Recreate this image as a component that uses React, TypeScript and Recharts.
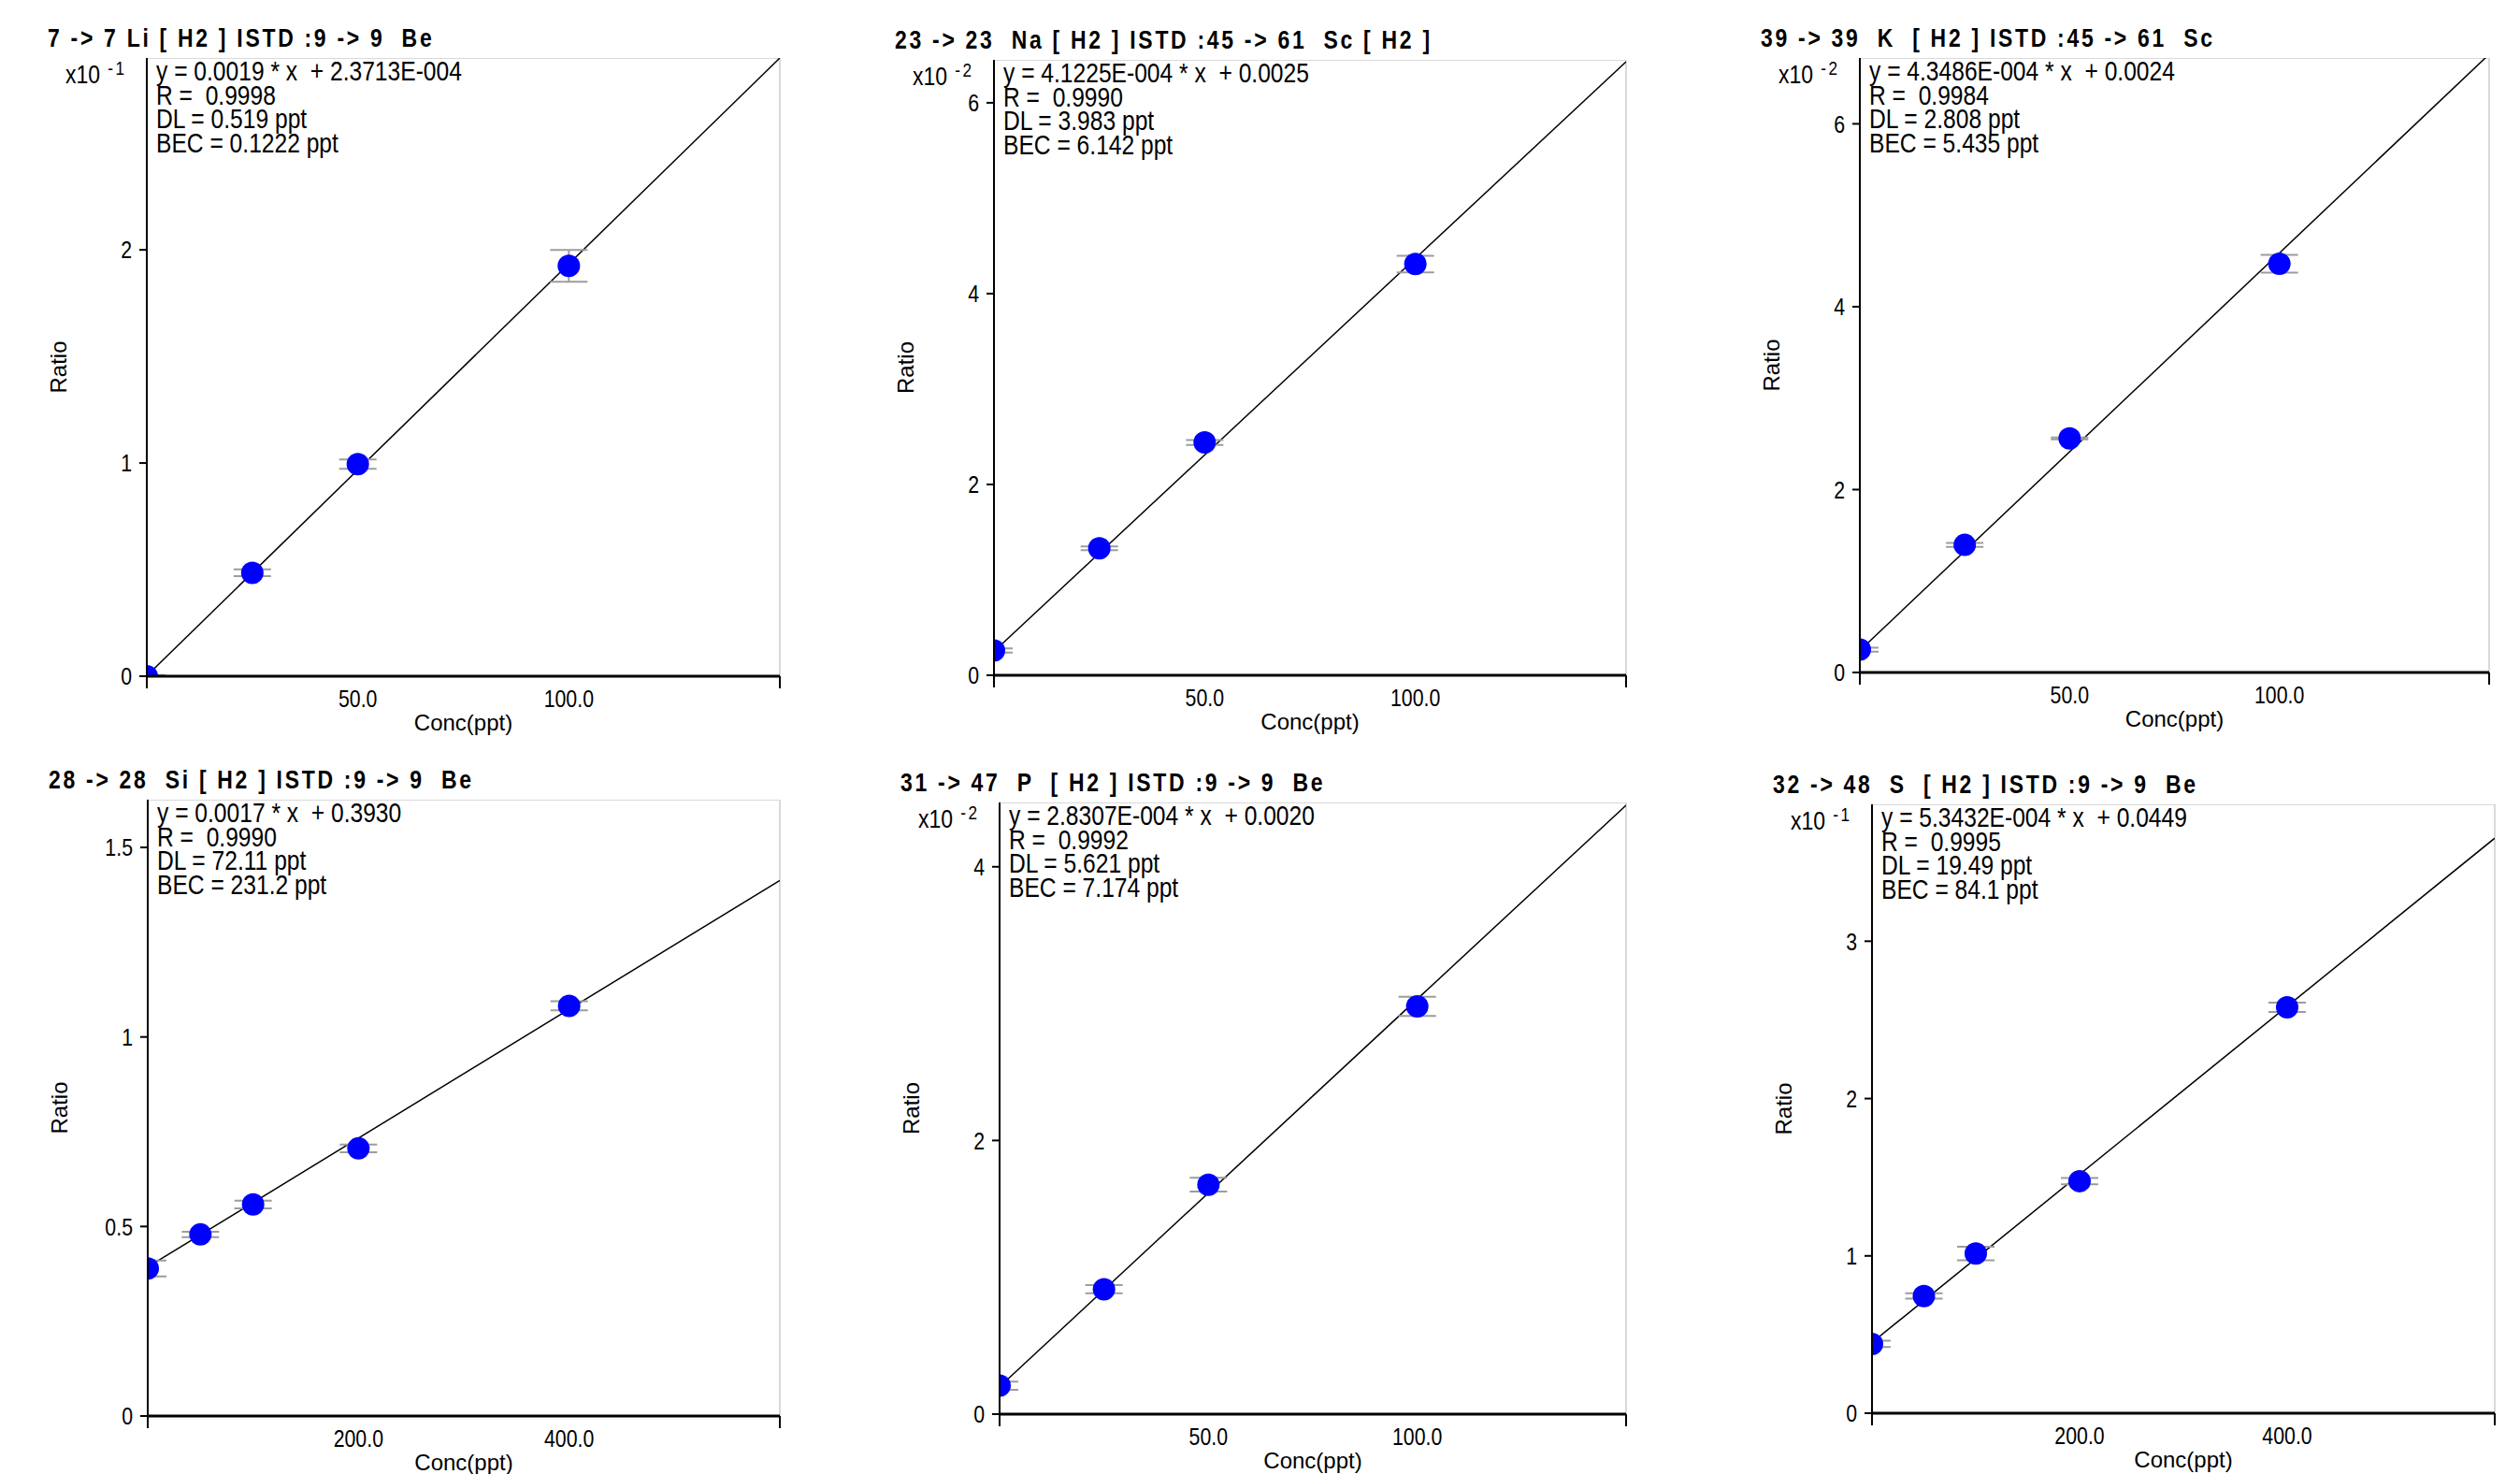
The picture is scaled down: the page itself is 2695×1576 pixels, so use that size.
import React from "react";
import {
  ComposedChart,
  Scatter,
  Line,
  XAxis,
  YAxis,
  CartesianGrid,
  ErrorBar,
} from "recharts";

// --- data (ratio shown in the axis units) ---
const lowConc = [0, 25, 50, 100];
const highConc = [0, 50, 100, 200, 400];
const lowXTicks = [0, 50, 100, 150];
const highXTicks = [0, 200, 400, 600];

const liRatio = [0.0, 0.485, 0.995, 1.925];
const liErr = [0.005, 0.016, 0.022, 0.075];
const liFit = [0.002, 2.9];
const liYTicks = [0, 1, 2];
const liStats = ["y = 0.0019 * x  + 2.3713E-004", "R =  0.9998", "DL = 0.519 ppt", "BEC = 0.1222 ppt"];

const naRatio = [0.26, 1.33, 2.44, 4.31];
const naErr = [0.023, 0.02, 0.026, 0.087];
const naFit = [0.25, 6.43];
const naYTicks = [0, 2, 4, 6];
const naStats = ["y = 4.1225E-004 * x  + 0.0025", "R =  0.9990", "DL = 3.983 ppt", "BEC = 6.142 ppt"];

const kRatio = [0.25, 1.395, 2.56, 4.47];
const kErr = [0.022, 0.022, 0.01, 0.097];
const kFit = [0.24, 6.76];
const kYTicks = [0, 2, 4, 6];
const kStats = ["y = 4.3486E-004 * x  + 0.0024", "R =  0.9984", "DL = 2.808 ppt", "BEC = 5.435 ppt"];

const siRatio = [0.389, 0.479, 0.558, 0.706, 1.082];
const siErr = [0.021, 0.007, 0.01, 0.01, 0.012];
const siFit = [0.393, 1.413];
const siYTicks = [0, 0.5, 1, 1.5];
const siStats = ["y = 0.0017 * x  + 0.3930", "R =  0.9990", "DL = 72.11 ppt", "BEC = 231.2 ppt"];

const pRatio = [0.208, 0.913, 1.677, 2.98];
const pErr = [0.03, 0.03, 0.05, 0.07];
const pFit = [0.2, 4.45];
const pYTicks = [0, 2, 4];
const pStats = ["y = 2.8307E-004 * x  + 0.0020", "R =  0.9992", "DL = 5.621 ppt", "BEC = 7.174 ppt"];

const sRatio = [0.44, 0.745, 1.015, 1.475, 2.58];
const sErr = [0.02, 0.017, 0.043, 0.02, 0.03];
const sFit = [0.449, 3.655];
const sYTicks = [0, 1, 2, 3];
const sStats = ["y = 5.3432E-004 * x  + 0.0449", "R =  0.9995", "DL = 19.49 ppt", "BEC = 84.1 ppt"];

const FONT = "'Liberation Sans', Arial, sans-serif";
const ML = 120; // y axis band
const MR = 20;
const MT = 20;
const MB = 70; // x axis band

type Panel = {
  title: string;
  conc: number[];
  ratio: number[];
  err: number[];
  fit: number[];
  stats: string[];
  exp: string | null;
  xTicks: number[];
  yTicks: number[];
  yMax: number;
  box: number[]; // plot area: left, top, right, bottom
};

const panels: Panel[] = [
  { title: "7 -> 7 Li [ H2 ] ISTD :9 -> 9  Be", conc: lowConc, ratio: liRatio, err: liErr, fit: liFit, stats: liStats, exp: "-1", xTicks: lowXTicks, yTicks: liYTicks, yMax: 2.9, box: [157, 62, 834, 723] },
  { title: "23 -> 23  Na [ H2 ] ISTD :45 -> 61  Sc [ H2 ]", conc: lowConc, ratio: naRatio, err: naErr, fit: naFit, stats: naStats, exp: "-2", xTicks: lowXTicks, yTicks: naYTicks, yMax: 6.45, box: [1063, 64, 1739, 722] },
  { title: "39 -> 39  K  [ H2 ] ISTD :45 -> 61  Sc", conc: lowConc, ratio: kRatio, err: kErr, fit: kFit, stats: kStats, exp: "-2", xTicks: lowXTicks, yTicks: kYTicks, yMax: 6.72, box: [1989, 62, 2662, 719] },
  { title: "28 -> 28  Si [ H2 ] ISTD :9 -> 9  Be", conc: highConc, ratio: siRatio, err: siErr, fit: siFit, stats: siStats, exp: null, xTicks: highXTicks, yTicks: siYTicks, yMax: 1.626, box: [158, 855, 834, 1514] },
  { title: "31 -> 47  P  [ H2 ] ISTD :9 -> 9  Be", conc: lowConc, ratio: pRatio, err: pErr, fit: pFit, stats: pStats, exp: "-2", xTicks: lowXTicks, yTicks: pYTicks, yMax: 4.47, box: [1069, 858, 1739, 1512] },
  { title: "32 -> 48  S  [ H2 ] ISTD :9 -> 9  Be", conc: highConc, ratio: sRatio, err: sErr, fit: sFit, stats: sStats, exp: "-1", xTicks: highXTicks, yTicks: sYTicks, yMax: 3.87, box: [2002, 860, 2668, 1511] },
];

const narrow = (size: number, bold = false): React.CSSProperties => ({
  position: "absolute",
  fontFamily: FONT,
  fontSize: size,
  fontWeight: bold ? 700 : 400,
  transform: "scaleX(0.82)",
  transformOrigin: "0 0",
  whiteSpace: "pre",
  color: "#000",
});

const Marker = (props: any) => {
  const { cx, cy } = props;
  if (cx == null || cy == null) return <g />;
  return <circle cx={cx} cy={cy} r={12} fill="#0000ff" />;
};

const Hidden = () => <g />;

const XTick = (props: any) => {
  const { x, y, payload, xMax } = props;
  const v = payload.value;
  if (v === 0 || v === xMax) {
    return <line x1={x} y1={y} x2={x} y2={y + 13} stroke="#000" strokeWidth={2} />;
  }
  return (
    <g transform={`translate(${x},${y + 24})`}>
      <text transform="scale(0.82,1)" textAnchor="middle" dominantBaseline="central" fontFamily={FONT} fontSize={26} fill="#000">
        {v.toFixed(1)}
      </text>
    </g>
  );
};

const YTick = (props: any) => {
  const { x, y, payload } = props;
  return (
    <g transform={`translate(${x},${y})`}>
      <text transform="scale(0.82,1)" textAnchor="end" dominantBaseline="central" fontFamily={FONT} fontSize={26} fill="#000">
        {String(payload.value)}
      </text>
    </g>
  );
};

function CalPanel({ p }: { p: Panel }) {
  const [l, t, r, b] = p.box;
  const w = r - l + ML + MR;
  const h = b - t + MT + MB;
  const xMax = p.xTicks[p.xTicks.length - 1];
  const points = p.conc.map((x, i) => ({ x, y: p.ratio[i], err: p.err[i] }));
  const fitLine = [
    { x: 0, y: p.fit[0] },
    { x: xMax, y: p.fit[1] },
  ];
  const margin = { top: MT, right: MR, bottom: 0, left: 0 };
  const pos: React.CSSProperties = { position: "absolute", left: l - ML, top: t - MT };
  return (
    <>
      {/* marks, clipped to the plot area like the instrument software does */}
      <div style={{ ...pos, clipPath: `inset(${MT}px ${MR - 2}px ${MB}px ${ML}px)` }}>
        <ComposedChart width={w} height={h} margin={margin}>
          <CartesianGrid stroke="#d9d9d9" strokeWidth={2} />
          <Scatter data={points} dataKey="y" shape={Marker} isAnimationActive={false} />
          <Line data={fitLine} dataKey="y" type="linear" stroke="#000" strokeWidth={1.5} dot={false} activeDot={false} isAnimationActive={false} />
          <Scatter data={points} dataKey="y" shape={Hidden} isAnimationActive={false}>
            <ErrorBar dataKey="err" direction="y" width={20} stroke="#9c9c9c" strokeWidth={2} />
          </Scatter>
          <XAxis type="number" dataKey="x" domain={[0, xMax]} ticks={p.xTicks} allowDataOverflow height={MB} axisLine={false} tickLine={false} tick={false} />
          <YAxis type="number" dataKey="y" domain={[0, p.yMax]} ticks={p.yTicks} allowDataOverflow width={ML} axisLine={false} tickLine={false} tick={false} />
        </ComposedChart>
      </div>
      {/* axes on top */}
      <div style={pos}>
        <ComposedChart width={w} height={h} margin={margin}>
          <Scatter data={points} dataKey="y" shape={Hidden} isAnimationActive={false} />
          <XAxis
            type="number"
            dataKey="x"
            domain={[0, xMax]}
            ticks={p.xTicks}
            interval={0}
            allowDataOverflow
            height={MB}
            axisLine={{ stroke: "#000", strokeWidth: 3 }}
            tickLine={false}
            tickSize={0}
            tickMargin={0}
            tick={<XTick xMax={xMax} />}
            label={{ value: "Conc(ppt)", position: "insideBottom", offset: 12, fontFamily: FONT, fontSize: 24, fill: "#000" }}
          />
          <YAxis
            type="number"
            dataKey="y"
            domain={[0, p.yMax]}
            ticks={p.yTicks}
            interval={0}
            allowDataOverflow
            width={ML}
            axisLine={{ stroke: "#000", strokeWidth: 2 }}
            tickLine={{ stroke: "#000", strokeWidth: 2 }}
            tickSize={8}
            tickMargin={8}
            tick={<YTick />}
            label={{ value: "Ratio", angle: -90, position: "insideLeft", offset: 25, fontFamily: FONT, fontSize: 24, fill: "#000", style: { textAnchor: "middle" } }}
          />
        </ComposedChart>
      </div>
      <div style={{ ...narrow(28, true), left: l - 106, top: t - 35, lineHeight: "28px", letterSpacing: 3.3 }}>{p.title}</div>
      {p.exp && (
        <div style={{ ...narrow(28), left: l - 87, top: t + 4, lineHeight: "28px" }}>
          x10
          <span style={{ position: "relative", top: -9, fontSize: 21, marginLeft: 10, letterSpacing: 3 }}>{p.exp}</span>
        </div>
      )}
      {p.stats.map((s, i) => (
        <div key={i} style={{ ...narrow(30), left: l + 10, top: t + 1 + i * 25.5, lineHeight: "25.5px" }}>
          {s}
        </div>
      ))}
    </>
  );
}

export default function App() {
  return (
    <div style={{ position: "absolute", left: 0, top: 0, width: 2695, height: 1576, background: "#fff", overflow: "hidden" }}>
      {panels.map((p, i) => (
        <CalPanel key={i} p={p} />
      ))}
    </div>
  );
}
